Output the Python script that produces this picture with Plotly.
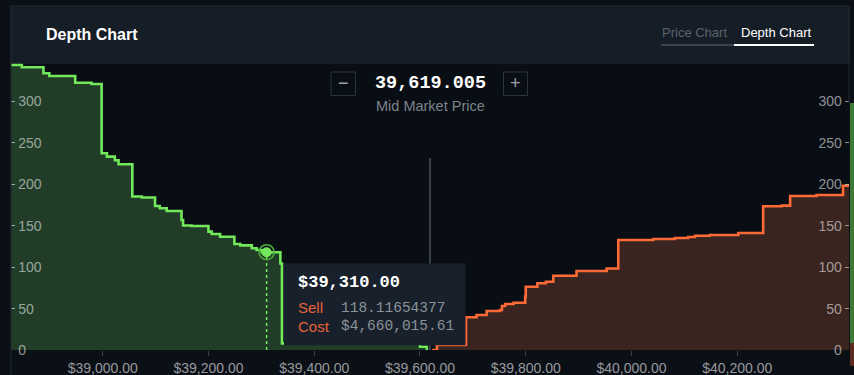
import plotly.graph_objects as go

# ---------------- data ----------------
bid_prices = [38826.6, 38847, 38888, 38899, 38948, 38979, 38998, 39008, 39023, 39030,
              39056, 39074, 39099, 39108, 39121, 39149, 39152, 39168, 39200, 39206,
              39222, 39249, 39260, 39282, 39291, 39301, 39336, 39339, 39600, 39613]
bid_depth = [344.2, 341.4, 334.2, 330.9, 322.8, 321.3, 237.6, 233.5, 229.1, 224.3,
             185.4, 184.2, 173.9, 171.1, 167.9, 157.0, 150.4, 149.8, 142.9, 140.1,
             136.8, 128.0, 126.4, 122.8, 120.8, 118.12, 104.5, 8.0, 4.0, 0.0]

ask_prices = [39623, 39632, 39687, 39707, 39726, 39751, 39755, 39761, 39777, 39799,
              39800, 39822, 39838, 39852, 39896, 39953, 39975, 40041, 40082, 40107,
              40120, 40148, 40202, 40249, 40284, 40300, 40350, 40400, 40411.3]
ask_depth = [0.0, 6.0, 39.5, 42.3, 47.1, 48.3, 53.1, 55.6, 57.1, 64.4,
             76.4, 80.6, 82.5, 89.7, 95.4, 98.4, 132.9, 134.1, 135.3, 136.5,
             138.0, 138.9, 141.3, 173.6, 174.3, 186.0, 187.2, 198.4, 198.4]

MID_PRICE = 39619.005
MID_LINE_TOP = 232
TOOLTIP_PRICE = 39310.00
TOOLTIP_SELL = 118.11654377
TOOLTIP_COST = 4660015.61

x_ticks = [39000, 39200, 39400, 39600, 39800, 40000, 40200]
y_ticks = [0, 50, 100, 150, 200, 250, 300]
X_RANGE = [38826.6, 40411.3]
Y_RANGE = [0, 346.6]

# ---------------- style ----------------
W, H = 854, 375
PL, PR, PT, PB = 11, 849, 63, 350  # plot pixel box


def fx(px):
    return (px - PL) / (PR - PL)


def fy(py):
    return (PB - py) / (PB - PT)


GREEN = "#72e85a"
GREEN_FILL = "#213d28"
ORANGE = "#ff6a36"
ORANGE_FILL = "#3a2420"
SANS = "Liberation Sans, Arial, sans-serif"
MONO = "Liberation Mono, Courier New, monospace"
LABEL = "rgba(255,255,255,0.55)"

fig = go.Figure()

fig.add_trace(go.Scatter(x=bid_prices, y=bid_depth, mode="lines", line_shape="hv",
                         line=dict(color=GREEN, width=2.6), fill="tozeroy",
                         fillcolor=GREEN_FILL, hoverinfo="skip"))
fig.add_trace(go.Scatter(x=ask_prices, y=ask_depth, mode="lines", line_shape="hv",
                         line=dict(color=ORANGE, width=2.6), fill="tozeroy",
                         fillcolor=ORANGE_FILL, hoverinfo="skip", yaxis="y2"))
# mid price line
fig.add_trace(go.Scatter(x=[MID_PRICE, MID_PRICE], y=[0, MID_LINE_TOP], mode="lines",
                         line=dict(color="#3b4148", width=2), hoverinfo="skip"))
# hover guide line + marker
fig.add_trace(go.Scatter(x=[TOOLTIP_PRICE, TOOLTIP_PRICE], y=[0, TOOLTIP_SELL], mode="lines",
                         line=dict(color=GREEN, width=1.5, dash="3px,3px"), hoverinfo="skip"))
fig.add_trace(go.Scatter(x=[TOOLTIP_PRICE], y=[TOOLTIP_SELL], mode="markers",
                         marker=dict(size=15, color="rgba(0,0,0,0)",
                                     line=dict(color="#4fae3f", width=1.5)),
                         hoverinfo="skip"))
fig.add_trace(go.Scatter(x=[TOOLTIP_PRICE], y=[TOOLTIP_SELL], mode="markers",
                         marker=dict(size=10, color=GREEN, line=dict(width=0)),
                         hoverinfo="skip"))

shapes = [
    # header
    dict(type="rect", xref="paper", yref="paper", x0=fx(11), x1=fx(849), y0=fy(63), y1=fy(6),
         fillcolor="#151d26", line=dict(color="#222b35", width=1), layer="below"),
    dict(type="line", xref="paper", yref="paper", x0=fx(11), x1=fx(11), y0=fy(375), y1=fy(6),
         line=dict(color="#1f2730", width=1)),
    dict(type="line", xref="paper", yref="paper", x0=fx(849), x1=fx(849), y0=fy(103), y1=fy(6),
         line=dict(color="#1f2730", width=1)),
    # tabs underline
    dict(type="line", xref="paper", yref="paper", x0=fx(661), x1=fx(734), y0=fy(45), y1=fy(45),
         line=dict(color="#3a434d", width=2)),
    dict(type="line", xref="paper", yref="paper", x0=fx(734), x1=fx(814), y0=fy(45), y1=fy(45),
         line=dict(color="#ffffff", width=2)),
    # minus / plus boxes
    dict(type="rect", xref="paper", yref="paper", x0=fx(331), x1=fx(355.5), y0=fy(95.5), y1=fy(72),
         line=dict(color="#2a323b", width=1)),
    dict(type="rect", xref="paper", yref="paper", x0=fx(503.5), x1=fx(527.5), y0=fy(95.5), y1=fy(72),
         line=dict(color="#2a323b", width=1)),
    # tooltip
    dict(type="rect", xref="paper", yref="paper", x0=fx(284), x1=fx(465.5), y0=fy(345.3), y1=fy(263.5),
         fillcolor="#18212b", line=dict(width=0), layer="above"),
    # right edge strip
    dict(type="rect", xref="paper", yref="paper", x0=fx(850), x1=fx(854), y0=fy(343), y1=fy(103),
         fillcolor="#3d7a37", line=dict(width=0)),
    dict(type="rect", xref="paper", yref="paper", x0=fx(850), x1=fx(854), y0=fy(366), y1=fy(343),
         fillcolor="#5b2b22", line=dict(width=0)),
]


def ann(text, x, y, size, color, family=SANS, xanchor="left", bold=False):
    if bold:
        text = "<b>" + text + "</b>"
    return dict(text=text, x=fx(x), y=fy(y), xref="paper", yref="paper", showarrow=False,
                xanchor=xanchor, yanchor="middle", font=dict(size=size, color=color, family=family))


annotations = [
    ann("Depth Chart", 44, 35, 16, "#ffffff", bold=True),
    ann("Price Chart", 660, 33, 13, "#5b636c"),
    ann("Depth Chart", 739, 33, 13, "#ffffff"),
    ann("\u2212", 343.3, 83.5, 18, "#9aa0a6", xanchor="center"),
    ann("+", 515.5, 83.5, 18, "#9aa0a6", xanchor="center"),
    ann(f"{MID_PRICE:,.3f}", 430, 84, 18.5, "#ffffff", family=MONO, xanchor="center", bold=True),
    ann("Mid Market Price", 430, 106, 14.5, "#7b838b", xanchor="center"),
    ann(f"${TOOLTIP_PRICE:,.2f}", 295.5, 282.5, 17, "#ffffff", family=MONO, bold=True),
    ann("Sell", 295.5, 307.5, 15, "#e8613a"),
    ann("Cost", 295.5, 326, 15, "#e8613a"),
    ann(f"{TOOLTIP_SELL:.8f}", 338.5, 307.5, 14.5, "#8a9198", family=MONO),
    ann(f"${TOOLTIP_COST:,.2f}", 338.5, 326, 14.5, "#8a9198", family=MONO),
]

yaxis_common = dict(range=Y_RANGE, tickvals=y_ticks, ticks="inside", ticklen=4,
                    tickcolor=LABEL, tickwidth=1, ticklabelposition="inside",
                    ticklabeloverflow="allow", ticklabelstandoff=3, automargin=False,
                    tickfont=dict(size=14, color=LABEL, family=SANS),
                    showgrid=False, zeroline=False, showline=False, fixedrange=True)

fig.update_layout(
    width=W, height=H, autosize=False,
    margin=dict(l=PL, r=W - PR, t=PT, b=H - PB, pad=0),
    paper_bgcolor="#0b1017", plot_bgcolor="#090e14",
    showlegend=False, hovermode=False,
    xaxis=dict(range=X_RANGE, tickvals=x_ticks, ticktext=[f"${v:,.2f}" for v in x_ticks],
               ticks="outside", ticklen=5, tickcolor="#3a424b", tickwidth=1, automargin=False,
               tickfont=dict(size=14, color="rgba(255,255,255,0.58)", family=SANS),
               showgrid=False, zeroline=False, showline=False, fixedrange=True),
    yaxis=dict(side="left", **yaxis_common),
    yaxis2=dict(side="right", overlaying="y", **yaxis_common),
    shapes=shapes, annotations=annotations,
)

fig.write_html(
    "out.html",
    config={"displayModeBar": False},
    post_script="document.body.style.margin='0';document.body.style.overflow='hidden';"
                "document.body.style.background='#0b1017';",
)
